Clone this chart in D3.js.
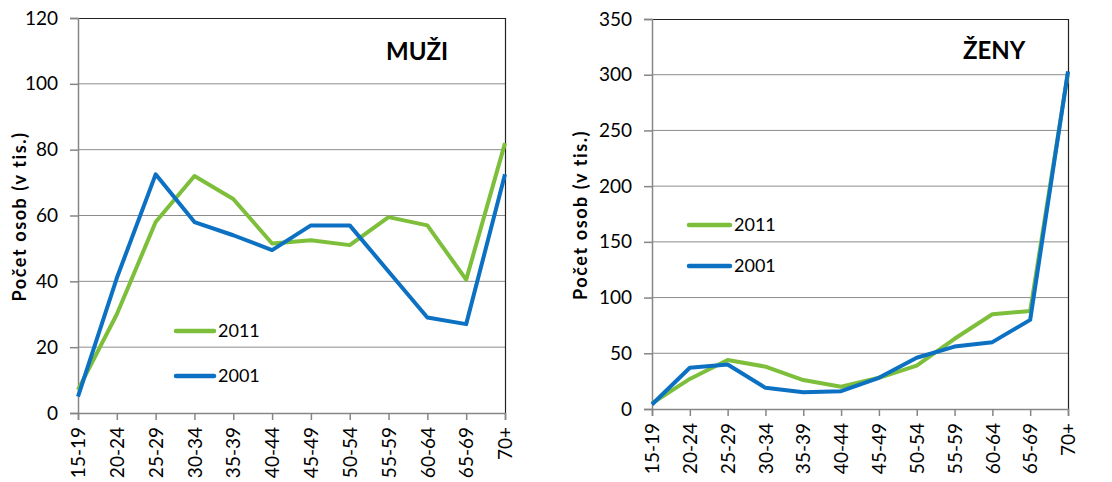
<!DOCTYPE html>
<html>
<head>
<meta charset="utf-8">
<script src="https://cdn.jsdelivr.net/npm/d3@7"></script>
<style>
  body { margin: 0; background: #fff; }
  svg { display: block; font-family: Lato, "Open Sans", sans-serif; }
</style>
</head>
<body>
<svg id="chart" width="1112" height="482"></svg>
<script>
const ageGroups = ["15-19", "20-24", "25-29", "30-34", "35-39", "40-44", "45-49", "50-54", "55-59", "60-64", "65-69", "70+"];
const seriesNames = ["2011", "2001"];

// men, thousands
const men2011 = [7, 30, 58, 72, 65, 51.5, 52.5, 51, 59.5, 57, 40.5, 82];
const men2001 = [5, 41, 72.5, 58, 54, 49.5, 57, 57, 43, 29, 27, 72.5];
const menTicks = [0, 20, 40, 60, 80, 100, 120];

// women, thousands
const women2011 = [5, 27, 44, 38, 26, 20, 28, 39, 63, 85, 88, 302];
const women2001 = [4, 37, 40, 19, 15, 16, 28, 46, 56, 60, 80, 303];
const womenTicks = [0, 50, 100, 150, 200, 250, 300, 350];

const colors = { "2011": "#7dbf3b", "2001": "#0c71c3" };

const svg = d3.select("#chart");

function drawPanel(opt) {
  const x = d3.scalePoint().domain(ageGroups).range([opt.left, opt.right]);
  const y = d3.scaleLinear().domain([0, d3.max(opt.ticks)]).range([opt.bottom, opt.top]);
  const g = svg.append("g");

  // horizontal grid
  g.selectAll("line.grid")
    .data(opt.ticks.slice(1, -1))
    .join("line")
    .attr("x1", opt.left).attr("x2", opt.right)
    .attr("y1", d => y(d)).attr("y2", d => y(d))
    .attr("stroke", "#8c8c8c").attr("stroke-width", 1);

  // top and right border
  g.append("path")
    .attr("d", `M${opt.left},${opt.top + 0.5}H${opt.right + 0.5}V${opt.bottom}`)
    .attr("fill", "none").attr("stroke", "#222").attr("stroke-width", 1.2);

  // y axis
  const yAxis = g.append("g")
    .attr("transform", `translate(${opt.left},0)`)
    .call(d3.axisLeft(y).tickValues(opt.ticks).tickSize(8).tickPadding(12));
  yAxis.select(".domain").attr("stroke", "#868686").attr("stroke-width", 1.5);
  yAxis.selectAll(".tick line").attr("stroke", "#868686").attr("stroke-width", 1.5);
  yAxis.selectAll(".tick text").attr("font-size", 19).attr("fill", "#000")
    .attr("font-family", "Lato, sans-serif");

  // x axis
  const xAxis = g.append("g")
    .attr("transform", `translate(0,${opt.bottom})`)
    .call(d3.axisBottom(x).tickSize(7).tickPadding(0));
  xAxis.select(".domain").attr("stroke", "#868686").attr("stroke-width", 1.5);
  xAxis.selectAll(".tick line").attr("stroke", "#868686").attr("stroke-width", 1.5);
  xAxis.selectAll(".tick text")
    .attr("font-size", 19).attr("fill", "#000")
    .attr("font-family", "Lato, sans-serif")
    .attr("text-anchor", "end")
    .attr("dy", "0.35em")
    .attr("transform", "translate(0,14) rotate(-90)")
    .attr("y", 0).attr("x", 0);

  // y title
  g.append("text")
    .attr("transform", `translate(${opt.titleX},${(opt.top + opt.bottom) / 2 + 1}) rotate(-90)`)
    .attr("text-anchor", "middle")
    .attr("dy", "0.35em")
    .attr("font-size", 18).attr("font-weight", "bold")
    .attr("letter-spacing", 1.6)
    .text("Počet osob (v tis.)");

  // series lines
  const line = d3.line().x((d, i) => x(ageGroups[i])).y(d => y(d));
  opt.series.forEach((vals, k) => {
    g.append("path")
      .datum(vals)
      .attr("d", line)
      .attr("fill", "none")
      .attr("stroke", colors[seriesNames[k]])
      .attr("stroke-width", 4)
      .attr("stroke-linejoin", "round");
  });

  // panel label
  g.append("text")
    .attr("x", opt.label.x).attr("y", opt.label.y)
    .attr("font-size", 24).attr("font-weight", "bold")
    .text(opt.label.text);

  // legend
  seriesNames.forEach((name, k) => {
    const ly = opt.legend.y[k];
    g.append("line")
      .attr("x1", opt.legend.x).attr("x2", opt.legend.x + opt.legend.len)
      .attr("y1", ly).attr("y2", ly)
      .attr("stroke", colors[name]).attr("stroke-width", 4.5)
      .attr("stroke-linecap", "round");
    g.append("text")
      .attr("x", opt.legend.x + opt.legend.len + 4).attr("y", ly)
      .attr("dy", "0.35em")
      .attr("font-size", 18)
      .text(name);
  });
}

drawPanel({
  left: 78, right: 505, top: 18, bottom: 413,
  ticks: menTicks,
  series: [men2011, men2001],
  titleX: 20,
  label: { text: "MUŽI", x: 386, y: 60 },
  legend: { x: 176, len: 38, y: [331, 376] }
});

drawPanel({
  left: 652, right: 1068, top: 19, bottom: 409,
  ticks: womenTicks,
  series: [women2011, women2001],
  titleX: 581,
  label: { text: "ŽENY", x: 963, y: 59 },
  legend: { x: 689, len: 41, y: [225, 266] }
});
</script>
</body>
</html>
